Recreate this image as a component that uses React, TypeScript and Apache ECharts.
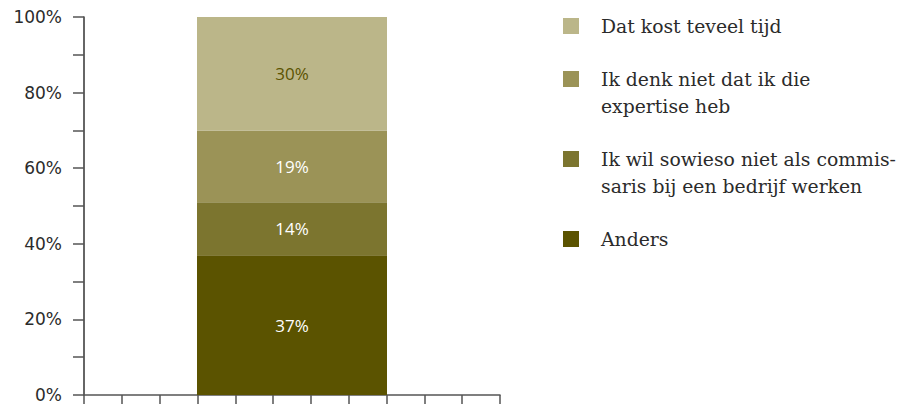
import React, { useEffect, useRef } from "react";
import * as echarts from "echarts";

const categories = ["Totaal"];
const seriesNames = [
  "Anders",
  "Ik wil sowieso niet als commis-\nsaris bij een bedrijf werken",
  "Ik denk niet dat ik die\nexpertise heb",
  "Dat kost teveel tijd",
];
const seriesValues = [[37], [14], [19], [30]];
const seriesColors = ["#5b5300", "#7c752f", "#9b9357", "#bbb689"];
const labelColors = ["#ffffff", "#ffffff", "#ffffff", "#5b5300"];
const yTicks = [0, 20, 40, 60, 80, 100];
const xTickCount = 11;

// legend order top to bottom
const legendOrder = [3, 2, 1, 0];
const legendCenters = [26, 79, 159, 239];

export default function App() {
  const ref = useRef<HTMLDivElement>(null);
  useEffect(() => {
    if (!ref.current) return;
    const chart = echarts.init(ref.current, undefined, { renderer: "svg" });
    const LH = 27;
    const legends = legendOrder.map((si, i) => {
      const lines = seriesNames[si].split("\n").length;
      const total = lines === 1 ? 1 : 2 * lines - 1;
      const top = legendCenters[i] - (total * LH) / 2;
      return {
        show: true,
        orient: "vertical",
        left: 563,
        top: top,
        padding: 0,
        icon: "rect",
        itemWidth: 16,
        itemHeight: 16,
        selectedMode: false,
        formatter: (name: string) => (lines > 1 ? "\n".repeat(lines - 1) + name : name),
        data: [{ name: seriesNames[si] }],
        textStyle: {
          fontFamily: "DejaVu Serif",
          fontSize: 18.8,
          color: "#2b2b2b",
          lineHeight: LH,
          padding: [0, 0, 0, 17],
        },
      };
    });
    chart.setOption({
      animation: false,
      grid: { left: 84, right: 403, top: 17, bottom: 9, containLabel: false },
      legend: legends,
      xAxis: [
        {
          type: "category",
          data: categories,
          axisLine: { show: false },
          axisTick: { show: false },
          axisLabel: { show: false },
        },
        {
          type: "value",
          min: 0,
          max: xTickCount,
          interval: 1,
          position: "bottom",
          axisLine: { show: true, lineStyle: { color: "#555", width: 1.5 } },
          axisTick: { show: true, length: 10, inside: false, lineStyle: { color: "#555", width: 1.5 } },
          axisLabel: { show: false },
          splitLine: { show: false },
        },
      ],
      yAxis: {
        type: "value",
        min: yTicks[0],
        max: yTicks[yTicks.length - 1],
        interval: 20,
        axisLine: { show: true, lineStyle: { color: "#333", width: 1.5 } },
        axisTick: { show: true, length: 11, lineStyle: { color: "#555", width: 1.5 } },
        minorTick: { show: true, splitNumber: 2, length: 11, lineStyle: { color: "#555", width: 1.5 } },
        axisLabel: {
          formatter: "{value}%",
          margin: 22,
          fontFamily: "DejaVu Sans",
          fontSize: 17,
          lineHeight: 14,
          padding: [0, 0, 4, 0],
          color: "#2b2b2b",
        },
        splitLine: { show: false },
      },
      series: seriesNames.map((name, i) => ({
        type: "bar",
        name,
        stack: "total",
        xAxisIndex: 0,
        data: seriesValues[i],
        barWidth: 190,
        itemStyle: { color: seriesColors[i] },
        label: {
          show: true,
          position: "inside",
          formatter: "{c}%",
          color: labelColors[i],
          fontFamily: "Open Sans",
          fontSize: 17,
        },
      })),
    });
    return () => chart.dispose();
  }, []);
  return <div ref={ref} style={{ width: 903, height: 404, position: "absolute", left: 0, top: 0 }} />;
}
